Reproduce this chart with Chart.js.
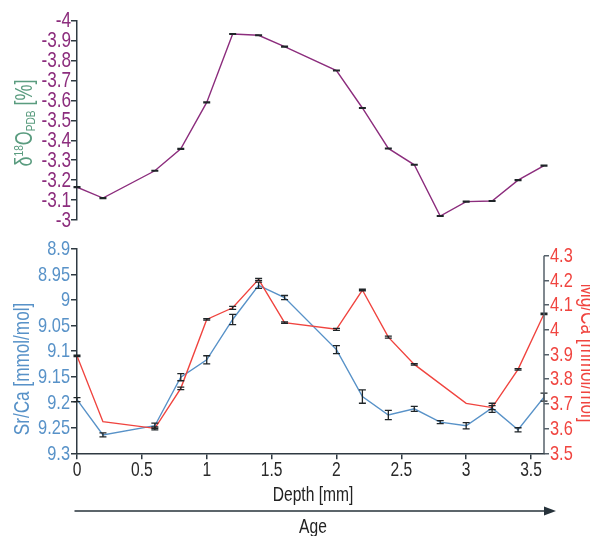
<!DOCTYPE html>
<html>
<head>
<meta charset="utf-8">
<script src="https://cdn.jsdelivr.net/npm/chart.js@4.4.0/dist/chart.umd.min.js"></script>
<style>
  html, body { margin: 0; padding: 0; background: #fff; overflow: hidden; width: 590px; height: 536px; }
  #top { position: absolute; left: 0; top: 0; }
  #bottom { position: absolute; left: 0; top: 235px; }
</style>
</head>
<body>
<canvas id="top" width="590" height="235"></canvas>
<canvas id="bottom" width="590" height="301"></canvas>
<script>
// depth positions (mm)
const depthO  = [0, 0.2, 0.6, 0.8, 1.0, 1.2, 1.4, 1.6, 2.0, 2.2, 2.4, 2.6, 2.8, 3.0, 3.2, 3.4, 3.6];
const depthSr = [0, 0.2, 0.6, 0.8, 1.0, 1.2, 1.4, 1.6, 2.0, 2.2, 2.4, 2.6, 2.8, 3.0, 3.2, 3.4, 3.6];
const depthMg = [0, 0.2, 0.6, 0.8, 1.0, 1.2, 1.4, 1.6, 2.0, 2.2, 2.4, 2.6, 3.0, 3.2, 3.4, 3.6];

// d18O (PDB)
const d18O    = [-3.165, -3.11, -3.247, -3.357, -3.59, -3.933, -3.927, -3.87, -3.75, -3.562, -3.359, -3.277, -3.02, -3.092, -3.095, -3.2, -3.273];
const d18OErr = [0.002, 0.002, 0.002, 0.002, 0.002, 0.002, 0.002, 0.002, 0.002, 0.002, 0.002, 0.002, 0.002, 0.002, 0.002, 0.002, 0.002];

// Sr/Ca (mmol/mol)
const srCa    = [9.195, 9.264, 9.246, 9.151, 9.117, 9.038, 8.971, 8.995, 9.097, 9.189, 9.225, 9.213, 9.239, 9.246, 9.211, 9.254, 9.19];
const srCaErr = [0.004, 0.004, 0.005, 0.007, 0.008, 0.01, 0.006, 0.004, 0.008, 0.013, 0.009, 0.005, 0.003, 0.006, 0.009, 0.004, 0.008];

// Mg/Ca (mmol/mol)
const mgCa    = [3.894, 3.628, 3.601, 3.763, 4.042, 4.089, 4.204, 4.029, 4.002, 4.161, 3.97, 3.86, 3.702, 3.685, 3.84, 4.064];
const mgCaErr = [0.003, 0, 0.006, 0.005, 0.003, 0.006, 0.004, 0.003, 0.004, 0.003, 0.004, 0.003, 0, 0.008, 0.003, 0.003];

// tick labels
const oTicks  = [-4, -3.9, -3.8, -3.7, -3.6, -3.5, -3.4, -3.3, -3.2, -3.1, -3];
const srTicks = [8.9, 8.95, 9, 9.05, 9.1, 9.15, 9.2, 9.25, 9.3];
const mgTicks = [3.5, 3.6, 3.7, 3.8, 3.9, 4, 4.1, 4.2, 4.3];
const xTicks  = [0, 0.5, 1, 1.5, 2, 2.5, 3, 3.5];

const FONT = "'Liberation Sans', Arial, sans-serif";
const SQ = 0.78; // horizontal squeeze, to get a condensed look
Chart.defaults.font.family = FONT;

const AXIS = '#2f3a42';
const PURPLE = '#8c2d7d';
const GREEN = '#5a9c7f';
const BLUE = '#5892c8';
const RED = '#f0443f';

const pts = (xs, ys) => xs.map((x, i) => ({ x: x, y: ys[i] }));
const setTicks = vals => scale => { scale.ticks = vals.map(v => ({ value: v })); };
const fmt = v => String(parseFloat(Number(v).toFixed(2)));

// condensed text, optionally rotated; parts = [[text, size, dy], ...]
function condText(ctx, x, y, parts, color, align, baseline, rot) {
  ctx.save();
  ctx.translate(x, y);
  if (rot) ctx.rotate(rot);
  ctx.scale(SQ, 1);
  ctx.fillStyle = color;
  ctx.textBaseline = baseline || 'middle';
  let w = 0;
  parts.forEach(p => { ctx.font = p[1] + 'px ' + FONT; w += ctx.measureText(p[0]).width; });
  let cx = align === 'right' ? -w : align === 'center' ? -w / 2 : 0;
  ctx.textAlign = 'left';
  parts.forEach(p => {
    ctx.font = p[1] + 'px ' + FONT;
    ctx.fillText(p[0], cx, p[2] || 0);
    cx += ctx.measureText(p[0]).width;
  });
  ctx.restore();
}

function yLabels(ctx, scale, x, align, size, color) {
  scale.ticks.forEach(t => {
    condText(ctx, x, scale.getPixelForValue(t.value) + 0.5, [[fmt(t.value), size]], color, align);
  });
}

const errorBars = {
  id: 'errorBars',
  afterDatasetsDraw(chart) {
    const ctx = chart.ctx;
    chart.data.datasets.forEach((ds, i) => {
      if (!ds.errors) return;
      const meta = chart.getDatasetMeta(i);
      const ys = chart.scales[meta.yAxisID];
      ctx.save();
      ctx.strokeStyle = '#1f2528';
      ctx.lineWidth = 1.3;
      meta.data.forEach((pt, j) => {
        const e = ds.errors[j];
        if (!e) return;
        const v = ds.data[j].y;
        const a = ys.getPixelForValue(v - e), b = ys.getPixelForValue(v + e);
        ctx.beginPath();
        ctx.moveTo(pt.x, a); ctx.lineTo(pt.x, b);
        ctx.moveTo(pt.x - 3.5, a); ctx.lineTo(pt.x + 3.5, a);
        ctx.moveTo(pt.x - 3.5, b); ctx.lineTo(pt.x + 3.5, b);
        ctx.stroke();
      });
      ctx.restore();
    });
  }
};

const topText = {
  id: 'topText',
  afterDraw(chart) {
    const ctx = chart.ctx;
    yLabels(ctx, chart.scales.y, 71, 'right', 22, PURPLE);
    condText(ctx, 26, 123, [
      ['δ', 23], ['18', 13, -7], ['O', 23], ['PDB', 13, 5], [' [%]', 23]
    ], GREEN, 'center', 'middle', -Math.PI / 2);
  }
};

const bottomText = {
  id: 'bottomText',
  afterDraw(chart) {
    const ctx = chart.ctx;
    const { x, y, y2 } = chart.scales;
    yLabels(ctx, y, 70, 'right', 21, BLUE);
    yLabels(ctx, y2, 550, 'left', 21, RED);
    x.ticks.forEach(t => {
      condText(ctx, x.getPixelForValue(t.value), x.top + 17, [[fmt(t.value), 20]], '#2a2a2a', 'center');
    });
    condText(ctx, 313, 260, [['Depth [mm]', 20]], '#222', 'center');
    condText(ctx, 23, 134, [['Sr/Ca [mmol/mol]', 22]], BLUE, 'center', 'middle', -Math.PI / 2);
    condText(ctx, 587, 118, [['Mg/Ca [mmol/mol]', 22]], RED, 'center', 'middle', Math.PI / 2);

    ctx.save();
    // right axis line, from 4.3 down
    ctx.strokeStyle = '#56616a';
    ctx.lineWidth = 1.5;
    ctx.beginPath();
    ctx.moveTo(y2.left, y2.getPixelForValue(4.3));
    ctx.lineTo(y2.left, chart.chartArea.bottom);
    ctx.stroke();
    // age arrow
    const ay = 276;
    ctx.strokeStyle = '#26323a';
    ctx.fillStyle = '#26323a';
    ctx.lineWidth = 1.3;
    ctx.beginPath();
    ctx.moveTo(74.5, ay); ctx.lineTo(548, ay);
    ctx.stroke();
    ctx.beginPath();
    ctx.moveTo(556, ay); ctx.lineTo(544, ay - 4.5); ctx.lineTo(544, ay + 4.5);
    ctx.closePath();
    ctx.fill();
    ctx.restore();
    condText(ctx, 313, 292, [['Age', 20]], '#222', 'center', 'middle');
  }
};

new Chart(document.getElementById('top'), {
  type: 'line',
  data: {
    datasets: [{
      data: pts(depthO, d18O),
      errors: d18OErr,
      borderColor: PURPLE,
      borderWidth: 1.4,
      pointRadius: 0,
      tension: 0
    }]
  },
  options: {
    responsive: false,
    animation: false,
    layout: { padding: { top: 20.7, bottom: 15, left: 0, right: 46 } },
    plugins: { legend: { display: false }, tooltip: { enabled: false } },
    scales: {
      x: { type: 'linear', min: 0, max: 3.6, display: false },
      y: {
        min: -4, max: -3, reverse: true,
        afterBuildTicks: setTicks(oTicks),
        afterFit: s => { s.width = 77; },
        ticks: { display: false },
        grid: { drawOnChartArea: false, tickLength: 6, color: AXIS, lineWidth: 1.5 },
        border: { color: AXIS, width: 1.5 }
      }
    }
  },
  plugins: [errorBars, topText]
});

new Chart(document.getElementById('bottom'), {
  type: 'line',
  data: {
    datasets: [{
      data: pts(depthMg, mgCa),
      errors: mgCaErr,
      yAxisID: 'y2',
      borderColor: RED,
      borderWidth: 1.4,
      pointRadius: 0,
      tension: 0
    }, {
      data: pts(depthSr, srCa),
      errors: srCaErr,
      yAxisID: 'y',
      borderColor: BLUE,
      borderWidth: 1.4,
      pointRadius: 0,
      tension: 0
    }]
  },
  options: {
    responsive: false,
    animation: false,
    layout: { padding: { top: 14, bottom: 19.7, left: 0, right: 0 } },
    plugins: { legend: { display: false }, tooltip: { enabled: false } },
    scales: {
      x: {
        type: 'linear', min: 0, max: 3.6, position: 'bottom',
        afterBuildTicks: setTicks(xTicks),
        afterFit: s => { s.height = 63; },
        ticks: { display: false },
        grid: { drawOnChartArea: false, tickLength: 6, color: AXIS, lineWidth: 1.5 },
        border: { color: AXIS, width: 1.5 }
      },
      y: {
        position: 'left', min: 8.9, max: 9.3, reverse: true,
        afterBuildTicks: setTicks(srTicks),
        afterFit: s => { s.width = 77; },
        ticks: { display: false },
        grid: { drawOnChartArea: false, tickLength: 6, color: AXIS, lineWidth: 1.5 },
        border: { color: AXIS, width: 1.5 }
      },
      y2: {
        position: 'right', min: 3.5, max: 4.327,
        afterBuildTicks: setTicks(mgTicks),
        afterFit: s => { s.width = 46; },
        ticks: { display: false },
        grid: { drawOnChartArea: false, tickLength: 5, color: '#56616a', lineWidth: 1.5 },
        border: { display: false }
      }
    }
  },
  plugins: [errorBars, bottomText]
});
</script>
</body>
</html>
